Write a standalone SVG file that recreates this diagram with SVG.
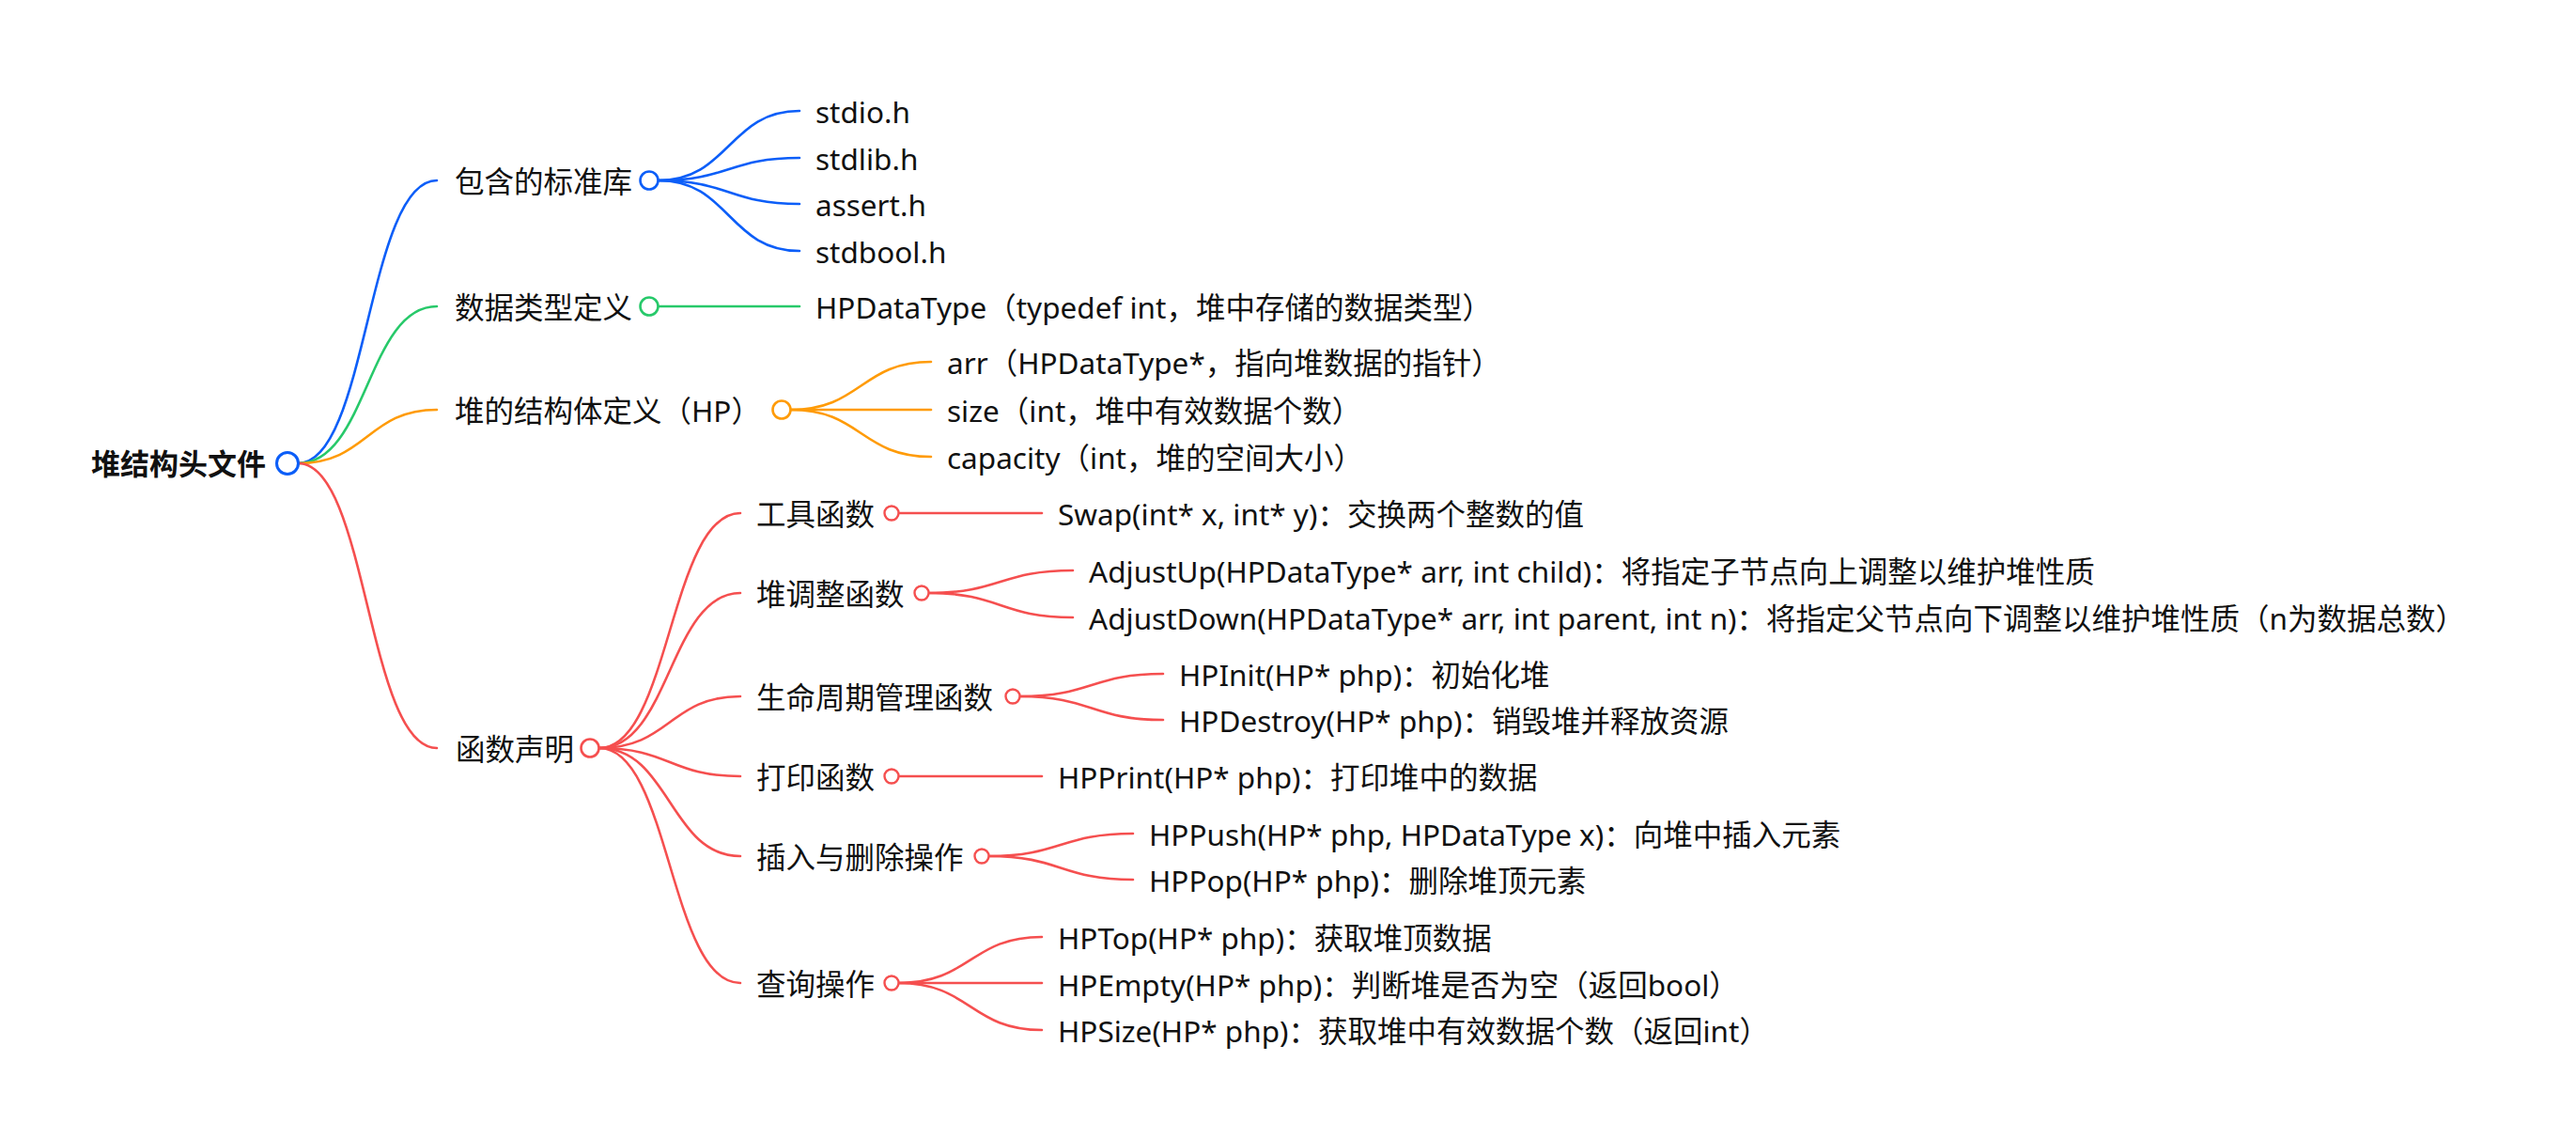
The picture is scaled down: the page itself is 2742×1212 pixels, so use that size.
<svg xmlns="http://www.w3.org/2000/svg" width="2742" height="1212" viewBox="0 0 2742 1212">
<style>
  text { font-family: "Noto Sans", "Noto Sans CJK SC", sans-serif; font-size: 31.5px; fill: #111; dominant-baseline: central; }
  .root { font-weight: bold; font-size: 31px; }
  .c { fill: #fff; }
  .e { fill: none; stroke-width: 2.6; stroke-linecap: round; }
  .blue { stroke: #0c5ef8; }
  .green { stroke: #27c96a; }
  .orange { stroke: #ff9b07; }
  .red { stroke: #f54f4f; }
</style>
<rect width="2742" height="1212" fill="#ffffff"/>
<g id="connectors">
  <path class="e blue" d="M317.5,493 C391,493 391,192 465,192"/>
  <path class="e green" d="M317.5,493 C391,493 391,326 465,326"/>
  <path class="e orange" d="M317.5,493 C391,493 391,436 465,436"/>
  <path class="e red" d="M317.5,493 C391,493 391,796 465,796"/>

  <path class="e blue" d="M701,192 C776,192 776,118 851,118"/>
  <path class="e blue" d="M701,192 C776,192 776,168 851,168"/>
  <path class="e blue" d="M701,192 C776,192 776,217 851,217"/>
  <path class="e blue" d="M701,192 C776,192 776,267 851,267"/>

  <path class="e green" d="M701,326 L851,326"/>

  <path class="e orange" d="M842,436 C916.5,436 916.5,385 991,385"/>
  <path class="e orange" d="M842,436 L991,436"/>
  <path class="e orange" d="M842,436 C916.5,436 916.5,486 991,486"/>

  <path class="e red" d="M638,796 C713,796 713,546 788,546"/>
  <path class="e red" d="M638,796 C713,796 713,631 788,631"/>
  <path class="e red" d="M638,796 C713,796 713,741 788,741"/>
  <path class="e red" d="M638,796 C713,796 713,826 788,826"/>
  <path class="e red" d="M638,796 C713,796 713,911 788,911"/>
  <path class="e red" d="M638,796 C713,796 713,1046 788,1046"/>

  <path class="e red" d="M956.5,546 L1109,546"/>
  <path class="e red" d="M988.5,631 C1065,631 1065,607 1142,607"/>
  <path class="e red" d="M988.5,631 C1065,631 1065,657 1142,657"/>
  <path class="e red" d="M1085.5,741 C1162,741 1162,717 1238,717"/>
  <path class="e red" d="M1085.5,741 C1162,741 1162,766 1238,766"/>
  <path class="e red" d="M956.5,826 L1109,826"/>
  <path class="e red" d="M1052.5,911 C1129,911 1129,887 1206,887"/>
  <path class="e red" d="M1052.5,911 C1129,911 1129,936 1206,936"/>
  <path class="e red" d="M956.5,1046 C1033,1046 1033,997 1109,997"/>
  <path class="e red" d="M956.5,1046 L1109,1046"/>
  <path class="e red" d="M956.5,1046 C1033,1046 1033,1096 1109,1096"/>
</g>

<g id="root">
  <text class="root" x="97" y="493">堆结构头文件</text>
  <circle class="c blue" cx="306" cy="493" r="11.5" stroke-width="3"/>
</g>

<g id="n-include">
  <text x="484" y="192">包含的标准库</text>
  <circle class="c blue" cx="691" cy="192" r="9.5" stroke-width="2.6"/>
</g>
<g id="n-stdio"><text x="868" y="118">stdio.h</text></g>
<g id="n-stdlib"><text x="868" y="168">stdlib.h</text></g>
<g id="n-assert"><text x="868" y="217">assert.h</text></g>
<g id="n-stdbool"><text x="868" y="267">stdbool.h</text></g>

<g id="n-datatype">
  <text x="484" y="326">数据类型定义</text>
  <circle class="c green" cx="691" cy="326" r="9.5" stroke-width="2.6"/>
</g>
<g id="n-hpdatatype"><text x="868" y="326">HPDataType（typedef int，堆中存储的数据类型）</text></g>

<g id="n-struct">
  <text x="484" y="436">堆的结构体定义（HP）</text>
  <circle class="c orange" cx="832" cy="436" r="9.5" stroke-width="2.6"/>
</g>
<g id="n-arr"><text x="1008" y="385">arr（HPDataType*，指向堆数据的指针）</text></g>
<g id="n-size"><text x="1008" y="436">size（int，堆中有效数据个数）</text></g>
<g id="n-capacity"><text x="1008" y="486">capacity（int，堆的空间大小）</text></g>

<g id="n-func">
  <text x="485" y="796">函数声明</text>
  <circle class="c red" cx="628" cy="796" r="9.5" stroke-width="2.6"/>
</g>

<g id="n-tool">
  <text x="805" y="546">工具函数</text>
  <circle class="c red" cx="949" cy="546" r="7.5" stroke-width="2.4"/>
</g>
<g id="n-swap"><text x="1126" y="546">Swap(int* x, int* y)：交换两个整数的值</text></g>

<g id="n-adjust">
  <text x="805" y="631">堆调整函数</text>
  <circle class="c red" cx="981" cy="631" r="7.5" stroke-width="2.4"/>
</g>
<g id="n-adjustup"><text x="1159" y="607">AdjustUp(HPDataType* arr, int child)：将指定子节点向上调整以维护堆性质</text></g>
<g id="n-adjustdown"><text x="1159" y="657">AdjustDown(HPDataType* arr, int parent, int n)：将指定父节点向下调整以维护堆性质（n为数据总数）</text></g>

<g id="n-life">
  <text x="805" y="741">生命周期管理函数</text>
  <circle class="c red" cx="1078" cy="741" r="7.5" stroke-width="2.4"/>
</g>
<g id="n-init"><text x="1255" y="717">HPInit(HP* php)：初始化堆</text></g>
<g id="n-destroy"><text x="1255" y="766">HPDestroy(HP* php)：销毁堆并释放资源</text></g>

<g id="n-print">
  <text x="805" y="826">打印函数</text>
  <circle class="c red" cx="949" cy="826" r="7.5" stroke-width="2.4"/>
</g>
<g id="n-hpprint"><text x="1126" y="826">HPPrint(HP* php)：打印堆中的数据</text></g>

<g id="n-insdel">
  <text x="805" y="911">插入与删除操作</text>
  <circle class="c red" cx="1045" cy="911" r="7.5" stroke-width="2.4"/>
</g>
<g id="n-push"><text x="1223" y="887">HPPush(HP* php, HPDataType x)：向堆中插入元素</text></g>
<g id="n-pop"><text x="1223" y="936">HPPop(HP* php)：删除堆顶元素</text></g>

<g id="n-query">
  <text x="805" y="1046">查询操作</text>
  <circle class="c red" cx="949" cy="1046" r="7.5" stroke-width="2.4"/>
</g>
<g id="n-top"><text x="1126" y="997">HPTop(HP* php)：获取堆顶数据</text></g>
<g id="n-empty"><text x="1126" y="1047">HPEmpty(HP* php)：判断堆是否为空（返回bool）</text></g>
<g id="n-hpsize"><text x="1126" y="1096">HPSize(HP* php)：获取堆中有效数据个数（返回int）</text></g>
</svg>
